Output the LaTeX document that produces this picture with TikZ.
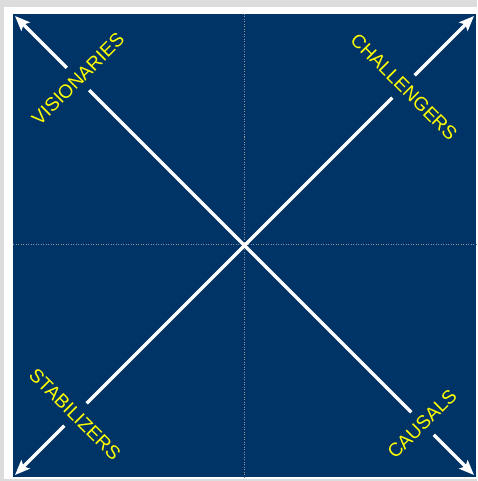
\documentclass[tikz,border=0pt]{standalone}
\usepackage{fontspec}
\setsansfont{Liberation Sans}
\usetikzlibrary{arrows.meta}
\definecolor{navy}{HTML}{003366}
\definecolor{pagegray}{HTML}{DCDCDC}
\definecolor{tagyellow}{HTML}{FFFF00}

\begin{document}
\begin{tikzpicture}[x=1pt, y=-1pt,
    axisarrow/.style={white, line width=3.4pt, {Stealth[length=15pt,width=12pt,inset=3pt]}-{Stealth[length=15pt,width=12pt,inset=3pt]}},
    guide/.style={gray!85, line width=1pt, dash pattern=on 1pt off 1.5pt},
    quadtag/.style={fill=navy, text=tagyellow, font=\sffamily\fontsize{19}{19}\selectfont, inner xsep=1pt, inner ysep=9pt}]
    \fill[pagegray] (0,0) rectangle (477,481);
    \fill[white] (4,7) rectangle (477,479);
    \fill[navy] (13,14) rectangle (476,477);
    % guides through the middle
    \coordinate (top) at (244,14);
    \coordinate (bottom) at (244,477);
    \coordinate (left) at (13,244);
    \coordinate (right) at (476,244);
    \draw[guide] (top) -- (bottom);
    \draw[guide] (left) -- (right);
    % corners
    \coordinate (nw) at (15,16);
    \coordinate (ne) at (474,16);
    \coordinate (sw) at (15,475);
    \coordinate (se) at (474,475);
    \draw[axisarrow] (nw) -- (se);
    \draw[axisarrow] (sw) -- (ne);
    \node[quadtag, rotate=45] (vis) at (78,79) {VISIONARIES};
    \node[quadtag, rotate=-45] (chal) at (404,87) {CHALLENGERS};
    \node[quadtag, rotate=-45] (stab) at (75,414) {STABILIZERS};
    \node[quadtag, rotate=45] (caus) at (422,424) {CAUSALS};
\end{tikzpicture}
\end{document}
